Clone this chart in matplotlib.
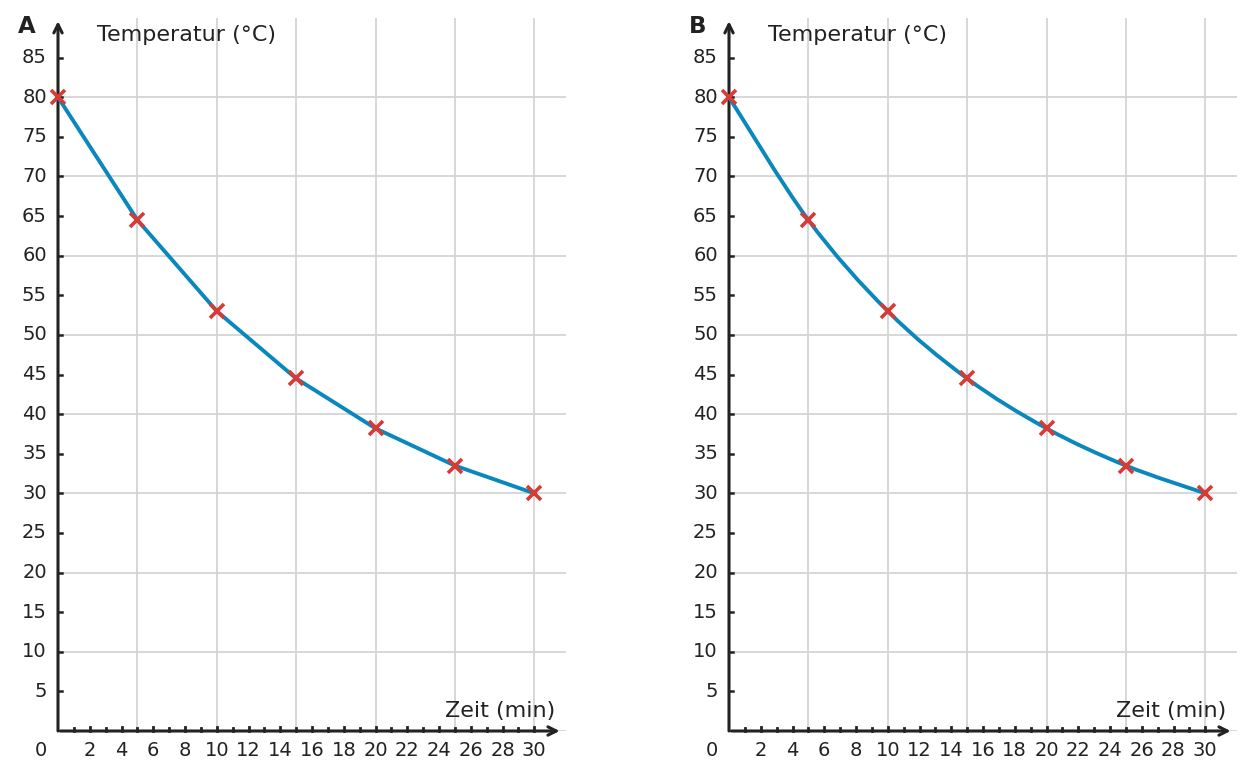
import numpy as np
import matplotlib
matplotlib.use('Agg')
import matplotlib.pyplot as plt
from matplotlib.path import Path
from matplotlib.patches import PathPatch

# measured values (time in min, temperature in degC)
zeit = [0, 5, 10, 15, 20, 25, 30]
temperatur = [80, 64.5, 53, 44.5, 38.2, 33.5, 30]
panels = ['A', 'B']
y_ticks = list(range(5, 90, 5))
x_labels = list(range(2, 32, 2))

BLUE = '#0a87bd'
RED = '#d63b36'
AXIS = '#222222'
GRID = '#d4d4d4'

fig = plt.figure(figsize=(12.55, 7.8), dpi=100)
W, H = 1255, 780


def smooth_path(xs, ys):
    # catmull-rom through the points, handed to matplotlib as bezier segments
    pts = np.column_stack([np.asarray(xs, float), np.asarray(ys, float)])
    verts = [pts[0]]
    codes = [Path.MOVETO]
    n = len(pts)
    for i in range(n - 1):
        p0 = pts[i - 1] if i > 0 else pts[i]
        p1 = pts[i]
        p2 = pts[i + 1]
        p3 = pts[i + 2] if i + 2 < n else pts[i + 1]
        c1 = p1 + (p2 - p0) / 6
        c2 = p2 - (p3 - p1) / 6
        verts += [c1, c2, p2]
        codes += [Path.CURVE4] * 3
    return Path(verts, codes)


def draw_panel(x0_px, letter, smooth):
    # data x 0..32 spans 508 px, y 0..90 spans 713 px
    ax = fig.add_axes([x0_px / W, (H - 731) / H, 508 / W, 713 / H])
    ax.set_xlim(0, 32)
    ax.set_ylim(0, 90)
    ax.axis('off')

    for gx in range(5, 35, 5):
        ax.plot([gx, gx], [0, 90], color=GRID, lw=1.3, zorder=1)
    for gy in range(10, 90, 10):
        ax.plot([0, 32], [gy, gy], color=GRID, lw=1.3, zorder=1)
    ax.plot([0, 32], [0, 0], color=GRID, lw=1.3, zorder=1)

    # axes with arrows
    ax.annotate('', xy=(0, 89.6), xytext=(0, 0),
                arrowprops=dict(arrowstyle='->,head_length=0.6,head_width=0.3',
                                color=AXIS, lw=2.2, shrinkA=0, shrinkB=0),
                annotation_clip=False, zorder=4)
    ax.annotate('', xy=(31.6, 0), xytext=(0.15, 0),
                arrowprops=dict(arrowstyle='->,head_length=0.6,head_width=0.3',
                                color=AXIS, lw=2.2, shrinkA=0, shrinkB=0),
                annotation_clip=False, zorder=4)

    for t in y_ticks:
        ax.plot([0, 0.28], [t, t], color=AXIS, lw=1.8, zorder=4, clip_on=False)
        ax.text(-0.7, t, str(t), ha='right', va='center', fontsize=14,
                color=AXIS)
    for t in range(1, 31):
        h = 0.55 if t % 2 == 0 else 0.4
        ax.plot([t, t], [0, h], color=AXIS, lw=2.0, zorder=4, clip_on=False)
    for t in x_labels:
        ax.text(t, -2.4, str(t), ha='center', va='center', fontsize=14,
                color=AXIS)
    ax.text(-1.1, -2.4, '0', ha='center', va='center', fontsize=14,
            color=AXIS)

    ax.text(2.45, 87.8, 'Temperatur (°C)', ha='left', va='center',
            fontsize=16, color=AXIS)
    ax.text(31.3, 2.5, 'Zeit (min)', ha='right', va='center',
            fontsize=16, color=AXIS)
    ax.text(-1.95, 88.9, letter, ha='center', va='center', fontsize=16.5,
            fontweight='bold', color=AXIS)

    if smooth:
        patch = PathPatch(smooth_path(zeit, temperatur), facecolor='none',
                          edgecolor=BLUE, lw=2.8, zorder=5, clip_on=False,
                          capstyle='round', joinstyle='round')
        ax.add_patch(patch)
    else:
        ax.plot(zeit, temperatur, color=BLUE, lw=2.8, zorder=5,
                solid_joinstyle='round', clip_on=False)
    ax.plot(zeit, temperatur, ls='none', marker='x', ms=10, mew=2.6,
            color=RED, zorder=6, clip_on=False)


draw_panel(58, panels[0], smooth=False)
draw_panel(729, panels[1], smooth=True)

fig.savefig('out.png', dpi=100)
